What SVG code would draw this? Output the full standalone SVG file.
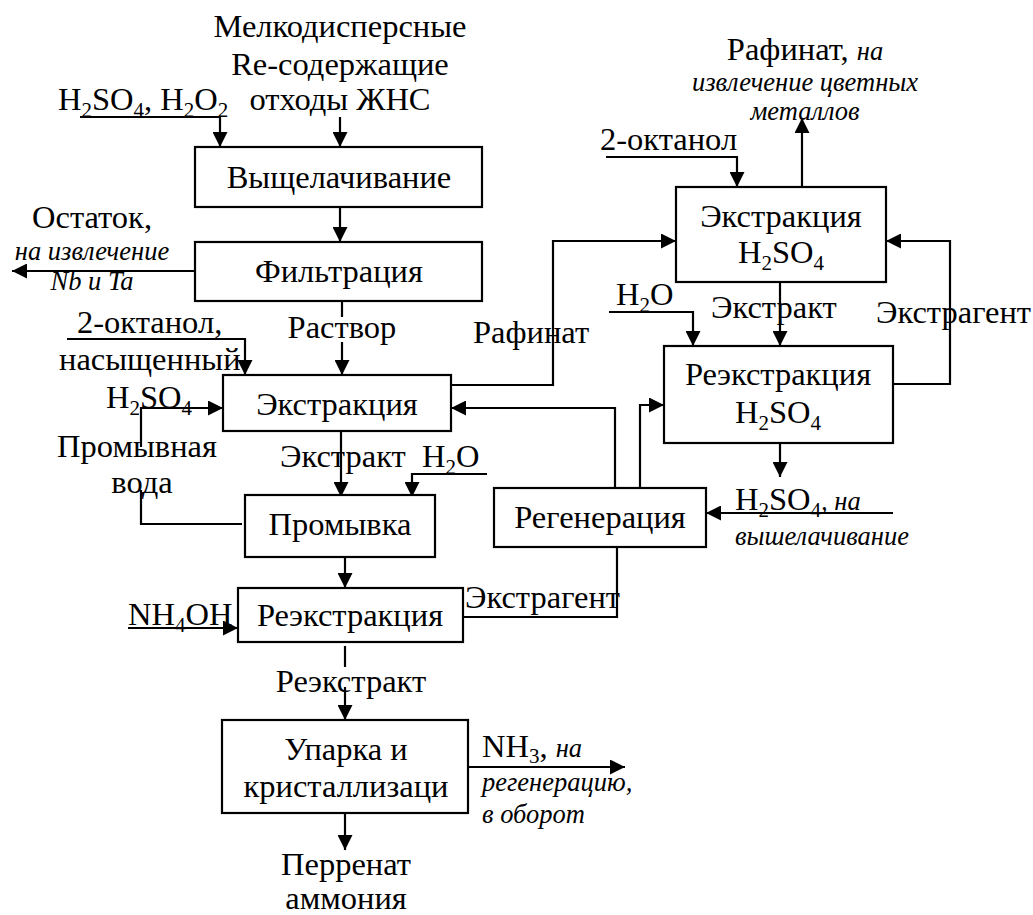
<svg xmlns="http://www.w3.org/2000/svg" width="1033" height="915" viewBox="0 0 1033 915" font-family="Liberation Serif, Times New Roman, serif">
<defs>
<marker id="ah" markerUnits="userSpaceOnUse" markerWidth="15" markerHeight="15" refX="15" refY="7.5" orient="auto">
<path d="M0,0 L15,7.5 L0,15 Z" fill="#000"/>
</marker>
<style>
text{font-family:"Liberation Serif","Times New Roman",serif;font-size:32.5px;fill:#000}
.c{text-anchor:middle}
.i{font-style:italic;font-size:26.5px}
.s{font-size:21px}
rect{fill:#fff;stroke:#000;stroke-width:2.2}
#connectors path{fill:none;stroke:#000;stroke-width:2.2}
.a{marker-end:url(#ah)}
</style>
</defs>
<rect x="0" y="0" width="1033" height="915" style="stroke:none"/>
<g id="connectors">
<path class="a" d="M80,117 H220 V147"/>
<path class="a" d="M340,117 V147"/>
<path class="a" d="M340,207 V242"/>
<path class="a" d="M195,271 H12"/>
<path d="M342,301 V317"/>
<path class="a" d="M342,342 V375"/>
<path class="a" d="M67,339 H245 V375"/>
<path class="a" d="M141,447 V408 H223"/>
<path d="M141,490 V524 H242"/>
<path class="a" d="M341,431 V497"/>
<path class="a" d="M487,474 H412 V497"/>
<path class="a" d="M345,557 V588"/>
<path class="a" d="M128,628 H238"/>
<path d="M463,617 H617 V547"/>
<path class="a" d="M615,488 V408 H451"/>
<path class="a" d="M640,488 V405 H664"/>
<path class="a" d="M451,385 H553 V241 H676"/>
<path class="a" d="M802,187 V118"/>
<path class="a" d="M606,157 H737 V187"/>
<path class="a" d="M780,282 V346"/>
<path class="a" d="M609,312 H693 V346"/>
<path class="a" d="M893,384 H950 V241 H886"/>
<path class="a" d="M780,443 V477"/>
<path class="a" d="M893,513 H706"/>
<path d="M345,646 V667"/>
<path class="a" d="M345,687 V720"/>
<path class="a" d="M345,813 V850"/>
<path class="a" d="M468,767 H625"/>
</g>
<g id="source">
<text class="c" x="340" y="37">Мелкодисперсные</text>
<text class="c" x="340" y="75">Re-содержащие</text>
<text class="c" x="340" y="110">отходы ЖНС</text>
</g>
<g id="reagent1">
<text x="58" y="110">H<tspan class="s" dy="7">2</tspan><tspan dy="-7">SO</tspan><tspan class="s" dy="7">4</tspan><tspan dy="-7">, H</tspan><tspan class="s" dy="7">2</tspan><tspan dy="-7">O</tspan><tspan class="s" dy="7">2</tspan></text>
</g>
<g id="leaching">
<rect x="195" y="147" width="287" height="60"/>
<text class="c" x="339" y="188">Выщелачивание</text>
</g>
<g id="filtration">
<rect x="195" y="242" width="287" height="59"/>
<text class="c" x="339" y="282">Фильтрация</text>
</g>
<g id="residue">
<text class="c" x="92" y="228">Остаток,</text>
<text class="c i" x="92" y="260">на извлечение</text>
<text class="c i" x="92" y="290">Nb и Ta</text>
</g>
<g id="solution-label"><text class="c" x="342" y="338">Раствор</text></g>
<g id="reagent2">
<text x="77" y="333">2-октанол,</text>
<text x="59" y="370">насыщенный</text>
<text x="106" y="408">H<tspan class="s" dy="7">2</tspan><tspan dy="-7">SO</tspan><tspan class="s" dy="7">4</tspan></text>
</g>
<g id="washwater">
<text class="c" x="137" y="457">Промывная</text>
<text class="c" x="142" y="493">вода</text>
</g>
<g id="extraction">
<rect x="223" y="375" width="228" height="56"/>
<text class="c" x="337" y="415">Экстракция</text>
</g>
<g id="extract-label"><text x="280" y="467">Экстракт</text></g>
<g id="water1"><text x="422" y="467">H<tspan class="s" dy="7">2</tspan><tspan dy="-7">O</tspan></text></g>
<g id="washing">
<rect x="245" y="495" width="190" height="62"/>
<text class="c" x="340" y="535">Промывка</text>
</g>
<g id="ammonia"><text x="128" y="625">NH<tspan class="s" dy="7">4</tspan><tspan dy="-7">OH</tspan></text></g>
<g id="stripping">
<rect x="238" y="588" width="225" height="54"/>
<text class="c" x="350" y="626">Реэкстракция</text>
</g>
<g id="extractant-label1"><text x="465" y="608">Экстрагент</text></g>
<g id="regeneration">
<rect x="494" y="488" width="212" height="59"/>
<text class="c" x="600" y="528">Регенерация</text>
</g>
<g id="raffinate-label"><text x="473" y="343">Рафинат</text></g>
<g id="raffinate-out">
<text class="c" x="805" y="60">Рафинат, <tspan class="i">на</tspan></text>
<text class="c i" x="805" y="91">извлечение цветных</text>
<text class="c i" x="805" y="120">металлов</text>
</g>
<g id="octanol2"><text x="600" y="150">2-октанол</text></g>
<g id="extraction-h2so4">
<rect x="676" y="187" width="210" height="95"/>
<text class="c" x="781" y="227">Экстракция</text>
<text class="c" x="781" y="263">H<tspan class="s" dy="7">2</tspan><tspan dy="-7">SO</tspan><tspan class="s" dy="7">4</tspan></text>
</g>
<g id="water2"><text x="616" y="305">H<tspan class="s" dy="7">2</tspan><tspan dy="-7">O</tspan></text></g>
<g id="extract-label2"><text x="711" y="318">Экстракт</text></g>
<g id="extractant-label2"><text x="876" y="323">Экстрагент</text></g>
<g id="stripping-h2so4">
<rect x="664" y="346" width="229" height="97"/>
<text class="c" x="778" y="385">Реэкстракция</text>
<text class="c" x="778" y="423">H<tspan class="s" dy="7">2</tspan><tspan dy="-7">SO</tspan><tspan class="s" dy="7">4</tspan></text>
</g>
<g id="acid-return">
<text x="735" y="510">H<tspan class="s" dy="7">2</tspan><tspan dy="-7">SO</tspan><tspan class="s" dy="7">4</tspan><tspan class="i" dy="-7">,  на</tspan></text>
<text class="i" x="735" y="545">вышелачивание</text>
</g>
<g id="strip-label"><text class="c" x="351" y="692">Реэкстракт</text></g>
<g id="evaporation">
<rect x="222" y="720" width="246" height="93"/>
<text class="c" x="346" y="760">Упарка и</text>
<text class="c" x="346" y="797">кристаллизаци</text>
</g>
<g id="nh3-out">
<text x="482" y="757">NH<tspan class="s" dy="6">3</tspan><tspan dy="-6">, </tspan><tspan class="i">на</tspan></text>
<text class="i" x="482" y="791">регенерацию,</text>
<text class="i" x="482" y="823">в оборот</text>
</g>
<g id="product">
<text class="c" x="346" y="875">Перренат</text>
<text class="c" x="346" y="909">аммония</text>
</g>
</svg>
